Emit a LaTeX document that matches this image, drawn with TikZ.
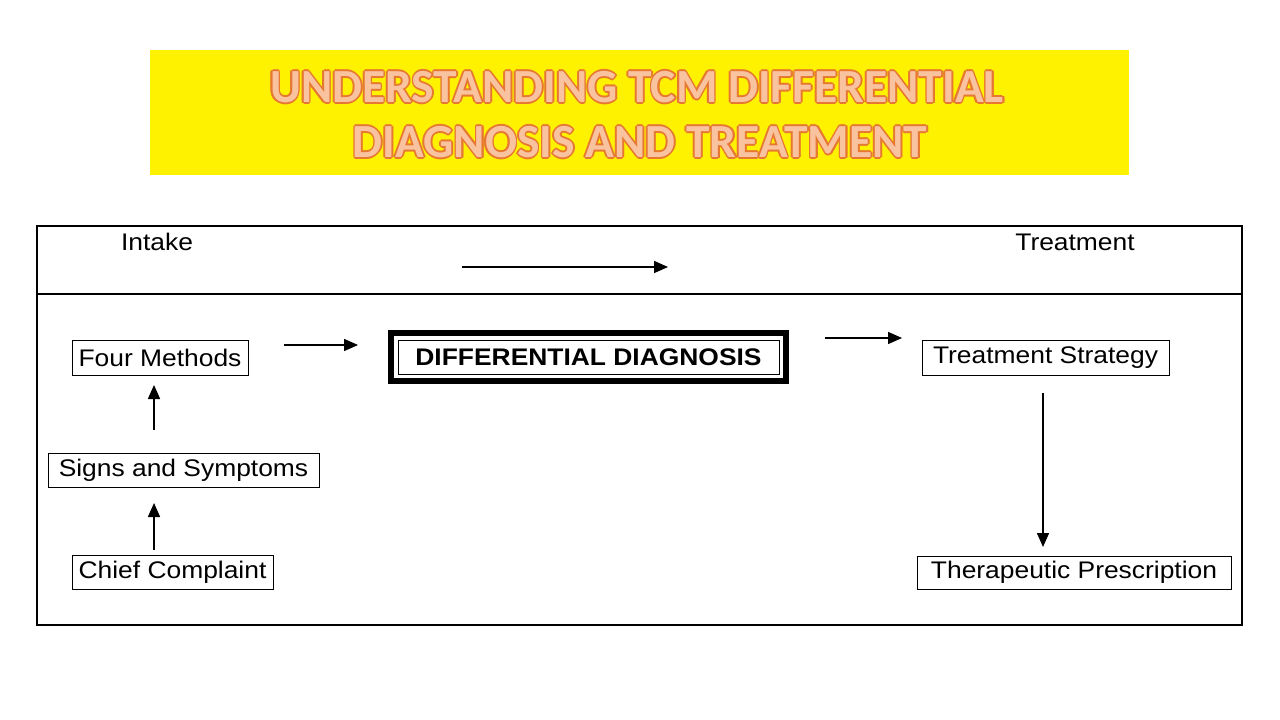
\documentclass[tikz,border=0pt]{standalone}
\usepackage{fontspec}
\setmainfont{Liberation Sans}[FakeStretch=1.1]
\newfontfamily\titlefont{Carlito}
\usetikzlibrary{arrows.meta,calc}
\definecolor{ttlfill}{RGB}{250,195,160}
\definecolor{ttlline}{RGB}{230,120,50}
\newcommand{\ttl}[2]{%
  \foreach \dx/\dy in {1.7/0,-1.7/0,0/1.7,0/-1.7,1.2/1.2,-1.2/1.2,1.2/-1.2,-1.2/-1.2}{
    \node[text=ttlline,font=\titlefont\bfseries\fontsize{47.5}{52}\selectfont] at ($(#1)+(\dx,\dy)$) {#2};}
  \node[text=ttlfill,font=\titlefont\bfseries\fontsize{47.5}{52}\selectfont] at (#1) {#2};}
\begin{document}
\begin{tikzpicture}[x=1pt,y=-1pt,
  box/.style={draw,line width=1pt,inner sep=0pt,font=\fontsize{24}{28}\selectfont,text=black},
  arr/.style={-{Triangle[length=14pt,width=12pt]},line width=1.5pt}]
\useasboundingbox (0,0) rectangle (1280,720);
\fill[white] (0,0) rectangle (1280,720);
\fill[yellow] (150,50) rectangle (1129,175);
\ttl{637,87}{UNDERSTANDING TCM DIFFERENTIAL}
\ttl{640,142}{DIAGNOSIS AND TREATMENT}
\draw[line width=1.2pt] (37,226) rectangle (1242,625);
\draw[line width=1.2pt] (37,294) -- (1242,294);
\node[font=\fontsize{24}{28}\selectfont] (intake) at (157,242) {Intake};
\node[font=\fontsize{24}{28}\selectfont] (treat) at (1075,242) {Treatment};
\node[box,minimum width=176pt,minimum height=35pt] (four) at (160,357.5) {Four Methods};
\node[box,minimum width=271pt,minimum height=34pt] (signs) at (183.5,470) {Signs and Symptoms};
\node[box,minimum width=201pt,minimum height=34pt] (chief) at (172.5,572) {Chief Complaint};
\node[box,minimum width=247pt,minimum height=35pt] (strat) at (1045.5,357.5) {Treatment Strategy};
\node[box,minimum width=314pt,minimum height=33pt] (presc) at (1074,572.5) {Therapeutic Prescription};
\node[draw,line width=6pt,minimum width=395pt,minimum height=48pt,inner sep=0pt] (dd) at (588.5,357) {};
\node[draw,line width=0.8pt,minimum width=381pt,minimum height=34pt,font=\bfseries\fontsize{24}{28}\selectfont,inner sep=0pt] (ddin) at (dd) {DIFFERENTIAL DIAGNOSIS};
\coordinate (a1) at (462,267); \coordinate (a2) at (668,267);
\coordinate (b1) at (284,345); \coordinate (b2) at (358,345);
\coordinate (c1) at (825,338); \coordinate (c2) at (902,338);
\coordinate (d1) at (154,430); \coordinate (d2) at (154,385);
\coordinate (e1) at (154,550); \coordinate (e2) at (154,503);
\coordinate (f1) at (1043,393); \coordinate (f2) at (1043,547);
\foreach \s/\t in {a1/a2,b1/b2,c1/c2,d1/d2,e1/e2,f1/f2} \draw[arr] (\s) -- (\t);
\end{tikzpicture}
\end{document}
